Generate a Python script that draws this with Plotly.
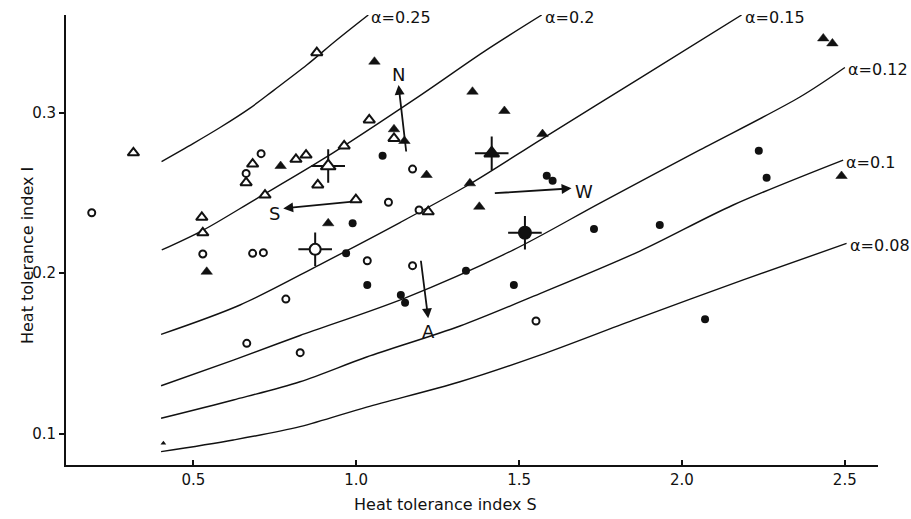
import plotly.graph_objects as go

# ---------------- data ----------------
open_circle_S = [0.188, 0.529, 0.662, 0.708, 0.682, 0.715, 1.034, 1.173, 0.784, 0.664, 0.828, 1.099, 1.193, 1.173, 1.552]
open_circle_I = [0.2377, 0.2120, 0.2622, 0.2745, 0.2124, 0.2128, 0.2078, 0.2047, 0.1839, 0.1563, 0.1505, 0.2442, 0.2394, 0.2649, 0.1702]

open_tri_S = [0.316, 0.526, 0.529, 0.682, 0.662, 0.879, 1.040, 1.116, 0.963, 0.882, 0.846, 0.815, 0.720, 0.999, 1.221]
open_tri_I = [0.2750, 0.2348, 0.2252, 0.2680, 0.2564, 0.3374, 0.2955, 0.2840, 0.2793, 0.2550, 0.2736, 0.2710, 0.2487, 0.2458, 0.2383]

filled_tri_S = [1.056, 1.116, 1.148, 0.768, 0.914, 0.541, 1.357, 1.455, 1.572, 1.349, 1.216, 1.378, 2.434, 2.462, 2.490]
filled_tri_I = [0.3318, 0.2897, 0.2824, 0.2668, 0.2311, 0.2009, 0.3131, 0.3011, 0.2867, 0.2560, 0.2612, 0.2414, 0.3463, 0.3432, 0.2606]

filled_circle_S = [1.081, 0.989, 0.969, 1.034, 1.137, 1.150, 1.585, 1.603, 1.730, 1.337, 1.484, 2.071, 1.932, 2.236, 2.260]
filled_circle_I = [0.2732, 0.2311, 0.2124, 0.1926, 0.1864, 0.1816, 0.2607, 0.2576, 0.2275, 0.2016, 0.1926, 0.1713, 0.2300, 0.2763, 0.2595]

# crossed (mean) points: open triangle, open circle, filled triangle, filled circle
cross_S = [0.914, 0.874, 1.416, 1.518]
cross_I = [0.2668, 0.2149, 0.2747, 0.2252]

tiny_S = [0.408]
tiny_I = [0.0941]

# iso-alpha curves
curve_labels = ["α=0.25", "α=0.2", "α=0.15", "α=0.12", "α=0.1", "α=0.08"]
curve_S = [
    [0.4024, 0.4991, 0.5820, 0.6740, 0.7456, 0.8481, 0.9401, 1.0371],
    [0.4030, 0.5307, 0.6894, 0.8990, 1.1958, 1.3901, 1.5694],
    [0.4009, 0.6433, 0.8889, 1.1344, 1.3493, 1.5694, 1.8763, 2.1832],
    [0.4009, 0.6228, 0.8275, 1.1494, 1.4813, 1.7483, 2.0552, 2.3622, 2.5003],
    [0.4009, 0.6228, 0.8275, 1.0322, 1.3186, 1.5641, 1.8711, 2.1574, 2.4951],
    [0.4009, 0.6228, 0.8275, 1.0322, 1.3186, 1.5641, 1.8505, 2.1882, 2.5055],
]
curve_I = [
    [0.2696, 0.2808, 0.2908, 0.3029, 0.3138, 0.3297, 0.3453, 0.3609],
    [0.2145, 0.2269, 0.2459, 0.2712, 0.3107, 0.3378, 0.3609],
    [0.1619, 0.1802, 0.2054, 0.2316, 0.2556, 0.2836, 0.3222, 0.3609],
    [0.1299, 0.1459, 0.1612, 0.1845, 0.2144, 0.2437, 0.2768, 0.3098, 0.3282],
    [0.1096, 0.1210, 0.1324, 0.1478, 0.1671, 0.1873, 0.2138, 0.2425, 0.2705],
    [0.0888, 0.0961, 0.1044, 0.1166, 0.1324, 0.1490, 0.1708, 0.1958, 0.2186],
]

# arrows (tail -> head) and their letters
arrow_letters = ["N", "S", "W", "A"]
arrow_tail_S = [1.154, 0.986, 1.421, 1.198]
arrow_tail_I = [0.2749, 0.2446, 0.2498, 0.2087]
arrow_head_S = [1.130, 0.776, 1.661, 1.221]
arrow_head_I = [0.3173, 0.2404, 0.2529, 0.1719]
letter_S = [1.130, 0.748, 1.699, 1.221]
letter_I = [0.3241, 0.2375, 0.2509, 0.1640]

x_tickvals = [0.5, 1.0, 1.5, 2.0, 2.5]
x_ticktext = ["0.5", "1.0", "1.5", "2.0", "2.5"]
y_tickvals = [0.1, 0.2, 0.3]
y_ticktext = ["0.1", "0.2", "0.3"]

FONT = "DejaVu Sans"
BLACK = "#111111"

fig = go.Figure()

for s, i in zip(curve_S, curve_I):
    fig.add_trace(go.Scatter(x=s, y=i, mode="lines",
                             line=dict(color=BLACK, width=1.4, shape="spline", smoothing=0.9),
                             hoverinfo="skip", showlegend=False))

fig.add_trace(go.Scatter(x=open_circle_S, y=open_circle_I, mode="markers",
                         marker=dict(symbol="circle", size=7, color="white", opacity=1,
                                     line=dict(color=BLACK, width=2)), showlegend=False))
fig.add_trace(go.Scatter(x=filled_circle_S, y=filled_circle_I, mode="markers",
                         marker=dict(symbol="circle", size=8, color=BLACK, opacity=1,
                                     line=dict(color=BLACK, width=0)), showlegend=False))
fig.add_trace(go.Scatter(x=open_tri_S, y=open_tri_I, mode="markers",
                         marker=dict(symbol="triangle-up", size=10, color="white", opacity=1,
                                     line=dict(color=BLACK, width=2)), showlegend=False))
fig.add_trace(go.Scatter(x=filled_tri_S, y=filled_tri_I, mode="markers",
                         marker=dict(symbol="triangle-up", size=10, color=BLACK, opacity=1,
                                     line=dict(color=BLACK, width=0.5)), showlegend=False))
fig.add_trace(go.Scatter(x=tiny_S, y=tiny_I, mode="markers",
                         marker=dict(symbol="triangle-up", size=5, color=BLACK, opacity=1),
                         showlegend=False))

# crossed mean points
fig.add_trace(go.Scatter(x=cross_S, y=cross_I, mode="markers",
                         marker=dict(symbol="cross-thin-open", size=24, color=BLACK, opacity=1,
                                     line=dict(color=BLACK, width=2)), showlegend=False))
fig.add_trace(go.Scatter(x=cross_S, y=cross_I, mode="markers",
                         marker=dict(symbol=["triangle-up", "circle", "triangle-up", "circle"],
                                     size=[13, 11, 13, 12], opacity=1,
                                     color=["white", "white", BLACK, BLACK],
                                     line=dict(color=BLACK, width=2)), showlegend=False))

annotations = []
for lab, s, i in zip(curve_labels, curve_S, curve_I):
    annotations.append(dict(x=s[-1], y=i[-1], text=lab, showarrow=False,
                            xanchor="left", yanchor="middle", xshift=1, yshift=-2,
                            font=dict(family=FONT, size=16, color=BLACK)))

for k in range(len(arrow_letters)):
    annotations.append(dict(x=arrow_head_S[k], y=arrow_head_I[k], ax=arrow_tail_S[k], ay=arrow_tail_I[k],
                            xref="x", yref="y", axref="x", ayref="y", text="",
                            showarrow=True, arrowhead=2, arrowsize=1.1, arrowwidth=1.8,
                            arrowcolor=BLACK))
    annotations.append(dict(x=letter_S[k], y=letter_I[k], text=arrow_letters[k], showarrow=False,
                            xanchor="center", yanchor="middle",
                            font=dict(family=FONT, size=18, color=BLACK)))

W, H = 911, 519
ML, MR, MT, MB = 66, 33, 15, 54
pw, ph = W - ML - MR, H - MT - MB

annotations.append(dict(x=(445 - ML) / pw, y=(H - MB - 505) / ph, xref="paper", yref="paper",
                        xanchor="center", yanchor="middle", text="Heat tolerance index S",
                        showarrow=False, font=dict(family=FONT, size=16, color=BLACK)))
annotations.append(dict(x=(27 - ML) / pw, y=(H - MB - 256) / ph, xref="paper", yref="paper",
                        xanchor="center", yanchor="middle", text="Heat tolerance index I",
                        textangle=-90, showarrow=False, font=dict(family=FONT, size=16, color=BLACK)))

fig.update_layout(
    width=W, height=H,
    margin=dict(l=ML, r=MR, t=MT, b=MB),
    paper_bgcolor="white", plot_bgcolor="white",
    font=dict(family=FONT, size=15, color=BLACK),
    annotations=annotations,
    showlegend=False,
)
fig.update_xaxes(range=[0.109, 2.602], showgrid=False, zeroline=False,
                 showline=True, linecolor=BLACK, linewidth=2,
                 ticks="inside", ticklen=5, tickwidth=1.5, tickcolor=BLACK,
                 tickvals=x_tickvals, ticktext=x_ticktext,
                 tickfont=dict(family=FONT, size=15, color=BLACK))
fig.update_yaxes(range=[0.0805, 0.3609], showgrid=False, zeroline=False,
                 showline=True, linecolor=BLACK, linewidth=2,
                 ticks="outside", ticklen=5, tickwidth=1.5, tickcolor=BLACK,
                 tickvals=y_tickvals, ticktext=y_ticktext,
                 tickfont=dict(family=FONT, size=15, color=BLACK))

fig.write_html("out.html")
